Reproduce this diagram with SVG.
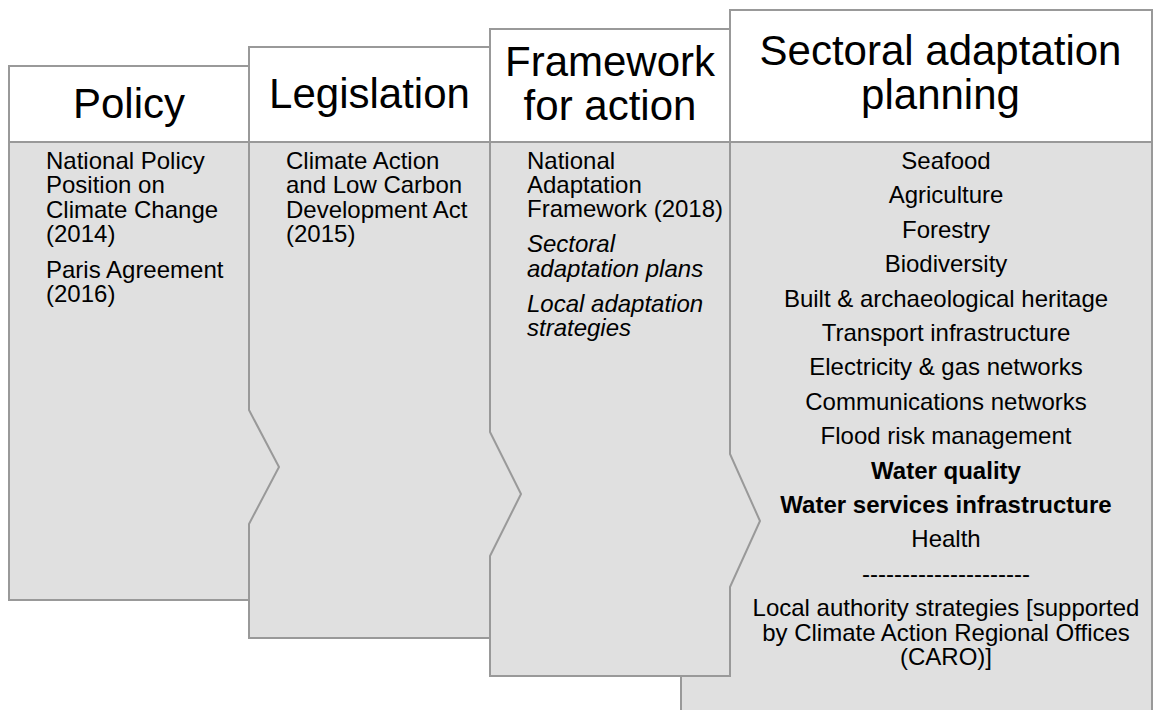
<svg xmlns="http://www.w3.org/2000/svg" width="1154" height="710" viewBox="0 0 1154 710">
<style>
.hd{fill:#ffffff;stroke:#999999;stroke-width:2}
.bd{fill:#e0e0e0;stroke:#999999;stroke-width:2;stroke-linejoin:miter}
.t{font-family:"Liberation Sans",Arial,sans-serif;fill:#000000}
.h{font-size:42px;text-anchor:middle}
.b{font-size:24px}
.c{text-anchor:middle}
.i{font-style:italic}
.bo{font-weight:bold}
</style>
<rect width="1154" height="710" fill="#ffffff"/>
<g id="sectoral">
<polygon class="bd" points="730,142 1152,142 1152,720 681,720 681,676 730,676"/>
<rect class="hd" x="730" y="10" width="422" height="132"/>
<text class="t h" x="940.5" y="65">Sectoral adaptation</text>
<text class="t h" x="940.5" y="109">planning</text>
<g class="t b c">
<text x="946" y="169">Seafood</text>
<text x="946" y="203.4">Agriculture</text>
<text x="946" y="237.8">Forestry</text>
<text x="946" y="272.2">Biodiversity</text>
<text x="946" y="306.6">Built &amp; archaeological heritage</text>
<text x="946" y="341">Transport infrastructure</text>
<text x="946" y="375.4">Electricity &amp; gas networks</text>
<text x="946" y="409.8">Communications networks</text>
<text x="946" y="444.2">Flood risk management</text>
<text class="bo" x="946" y="478.6">Water quality</text>
<text class="bo" x="946" y="513">Water services infrastructure</text>
<text x="946" y="547.4">Health</text>
<text x="946" y="582">---------------------</text>
<text x="946" y="616.4">Local authority strategies [supported</text>
<text x="946" y="640.6">by Climate Action Regional Offices</text>
<text x="946" y="664.8">(CARO)]</text>
</g>
</g>
<g id="framework">
<polygon class="bd" points="490,142 730,142 730,454 760,521 730,587 730,676 490,676"/>
<rect class="hd" x="490" y="29" width="240" height="113"/>
<text class="t h" x="610" y="76">Framework</text>
<text class="t h" x="610" y="120">for action</text>
<g class="t b">
<text x="527" y="168.5">National</text>
<text x="527" y="192.8">Adaptation</text>
<text x="527" y="217.1">Framework (2018)</text>
<text class="i" x="527" y="252.3">Sectoral</text>
<text class="i" x="527" y="276.6">adaptation plans</text>
<text class="i" x="527" y="311.7">Local adaptation</text>
<text class="i" x="527" y="336">strategies</text>
</g>
</g>
<g id="legislation">
<polygon class="bd" points="249,142 490,142 490,432 521,494 490,556 490,638 249,638"/>
<rect class="hd" x="249" y="47" width="241" height="95"/>
<text class="t h" x="369.5" y="108">Legislation</text>
<g class="t b">
<text x="286" y="169">Climate Action</text>
<text x="286" y="193.3">and Low Carbon</text>
<text x="286" y="217.6">Development Act</text>
<text x="286" y="241.9">(2015)</text>
</g>
</g>
<g id="policy">
<polygon class="bd" points="9,142 249,142 249,410 279,467 249,524 249,600 9,600"/>
<rect class="hd" x="9" y="66" width="240" height="76"/>
<text class="t h" x="129" y="118">Policy</text>
<g class="t b">
<text x="46" y="169">National Policy</text>
<text x="46" y="193.3">Position on</text>
<text x="46" y="217.6">Climate Change</text>
<text x="46" y="241.9">(2014)</text>
<text x="46" y="277.7">Paris Agreement</text>
<text x="46" y="302">(2016)</text>
</g>
</g>
</svg>
